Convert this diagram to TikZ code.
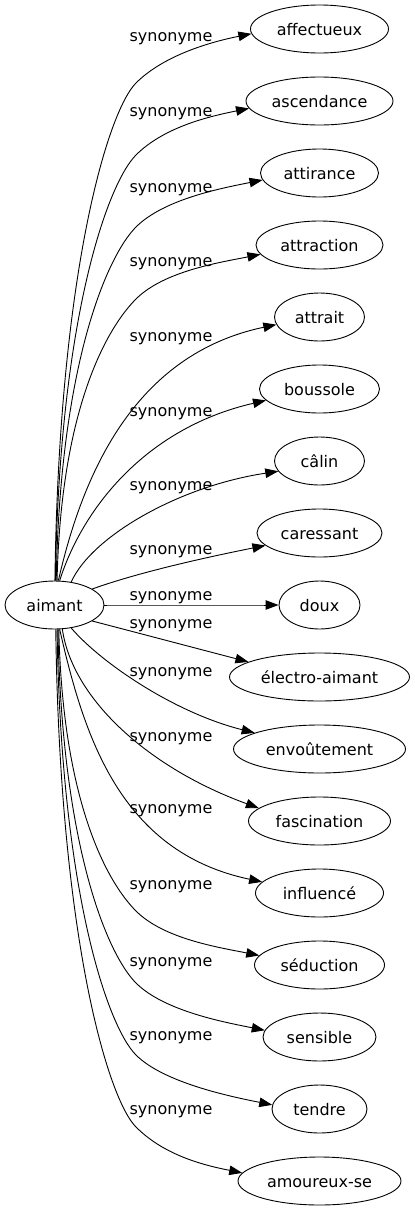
\documentclass[tikz,border=0pt]{standalone}
\usepackage{fontspec}
\setmainfont{DejaVu Sans}
\usetikzlibrary{arrows.meta,shapes.geometric}

\begin{document}
\begin{tikzpicture}[
    x=1pt, y=-1pt,
    word/.style={ellipse,draw,line width=0.9pt,inner sep=0pt,minimum height=48,
      font=\fontsize{16}{19}\selectfont,text height=15pt,text depth=1.6pt},
    rel/.style={font=\fontsize{16}{19}\selectfont,inner sep=0pt,anchor=base},
    edge/.style={line width=0.9pt,-{Triangle[length=13pt,width=9.5pt]}}
    ]

    \useasboundingbox (0,0) rectangle (415,1211);

    \node(aimant) [word,minimum width=99] at (54.5,605) {aimant};

    \foreach \i/\w/\word in {0/138/affectueux, 1/147/ascendance, 2/118/attirance,
        3/127/attraction, 4/90/attrait, 5/120/boussole, 6/90/câlin, 7/125/caressant,
        8/81/doux, 9/180/électro-aimant, 10/172/envoûtement, 11/142/fascination,
        12/128/influencé, 13/130/séduction, 14/113/sensible, 15/95/tendre,
        16/163/amoureux-se}
      \node(n\i) [word,minimum width=\w] at (319.5,29+72*\i) {\word};

    \foreach \i/\ly in {0/41, 1/116, 2/192, 3/266, 4/341, 5/416, 6/490, 7/554,
        8/600, 9/628, 10/676, 11/741, 12/813, 13/889, 14/966, 15/1040, 16/1114}
      \node(l\i) [rel] at (171,\ly) {synonyme};

    % long edges, with a bend near the labels
    \foreach \i/\sa/\ea in {0/89/184, 1/88/186, 2/86/187, 3/84/189}{
      \pgfmathsetmacro\kneey{83+72*\i}
      \pgfmathsetmacro\lift{-0.62*(581-\kneey)}
      \draw[edge] (aimant.\sa) .. controls +(4,\lift) and +(-28,28) .. (136,\kneey)
        .. controls +(28,-28) and +(-40,8) .. (n\i.\ea);
    }

    \foreach \i/\sa/\ea in {13/280/171, 14/278/173, 15/276/175, 16/273/174}{
      \pgfmathsetmacro\kneey{29+72*\i-54}
      \pgfmathsetmacro\lift{0.62*(\kneey-629)}
      \draw[edge] (aimant.\sa) .. controls +(4,\lift) and +(-28,-28) .. (136,\kneey)
        .. controls +(28,28) and +(-40,-8) .. (n\i.\ea);
    }

    % short edges
    \foreach \i/\sa/\ea/\ax/\ay/\bx/\by in {4/81/190/24/-105/-143/30,
        5/78/192/22/-70/-122/28, 6/54/194/20/-45/-100/15, 7/23/193/50/-18/-50/10,
        8/0/180/50/0/-50/0, 9/337/168/50/13/-50/-13, 10/306/166/30/35/-80/-20,
        11/288/168/10/70/-110/-40, 12/282/169/24/105/-143/-30}
      \draw[edge] (aimant.\sa) .. controls +(\ax,\ay) and +(\bx,\by) .. (n\i.\ea);

  \end{tikzpicture}
\end{document}
